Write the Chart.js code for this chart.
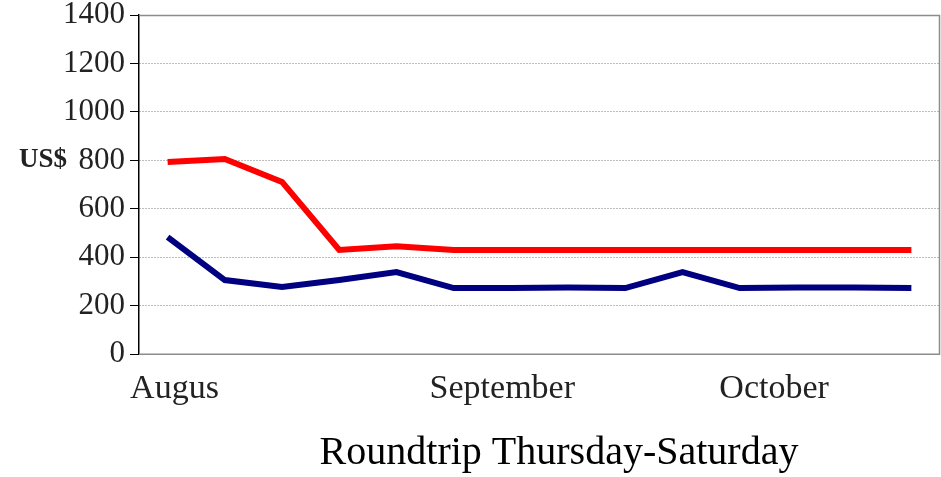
<!DOCTYPE html>
<html>
<head>
<meta charset="utf-8">
<script src="https://cdn.jsdelivr.net/npm/chart.js@4"></script>
<style>
html,body{margin:0;padding:0;background:#fff;}
#wrap{width:941px;height:477px;}
</style>
</head>
<body>
<div id="wrap"><canvas id="c" width="941" height="477"></canvas></div>
<script>
// Data
const categories = ['1','2','3','4','5','6','7','8','9','10','11','12','13','14'];
const seriesRed  = [793, 806, 711, 430, 446, 430, 430, 430, 430, 430, 430, 430, 430, 430];
const seriesBlue = [483, 306, 277, 306, 339, 273, 273, 275, 273, 339, 273, 275, 275, 273];
const yTicks = [0, 200, 400, 600, 800, 1000, 1200, 1400];
const monthLabels = ['Augus', 'September', 'October'];
const monthTickAt = [0.12, 5.85, 10.6];
const xTitle = 'Roundtrip Thursday-Saturday';
const yTitle = 'US$';

const serif = "'Liberation Serif', 'Times New Roman', serif";

const framePlugin = {
  id: 'frame',
  beforeDatasetsDraw(chart) {
    const {ctx, chartArea: a} = chart;
    ctx.save();
    ctx.strokeStyle = '#8c8c8c';
    ctx.lineWidth = 1.5;
    ctx.beginPath();
    ctx.moveTo(a.left, a.top + 0.5);
    ctx.lineTo(a.right - 0.5, a.top + 0.5);
    ctx.lineTo(a.right - 0.5, a.bottom);
    ctx.lineTo(a.left, a.bottom);
    ctx.stroke();
    ctx.restore();
  },
  afterDraw(chart) {
    const {ctx} = chart;
    const y = chart.scales.y.getPixelForValue(800);
    ctx.save();
    ctx.fillStyle = '#222';
    ctx.font = "bold 27px " + serif;
    ctx.textAlign = 'left';
    ctx.textBaseline = 'middle';
    ctx.fillText(yTitle, 19, y);
    ctx.fillStyle = '#000';
    ctx.font = "40px " + serif;
    ctx.textAlign = 'center';
    ctx.textBaseline = 'alphabetic';
    ctx.fillText(xTitle, 559, 464);
    ctx.restore();
  }
};

new Chart(document.getElementById('c'), {
  type: 'line',
  data: {
    labels: categories,
    datasets: [
      {data: seriesRed, borderColor: '#ff0000', borderWidth: 6, pointRadius: 0, tension: 0, borderCapStyle: 'butt', xAxisID: 'x', yAxisID: 'y'},
      {data: seriesBlue, borderColor: '#000080', borderWidth: 6, pointRadius: 0, tension: 0, borderCapStyle: 'butt', xAxisID: 'x', yAxisID: 'y'}
    ]
  },
  options: {
    responsive: false,
    animation: false,
    events: [],
    layout: {padding: {left: 58, right: 1, top: 15, bottom: 54}},
    plugins: {legend: {display: false}, tooltip: {enabled: false}},
    scales: {
      x: {
        type: 'category',
        offset: true,
        display: false
      },
      x2: {
        type: 'linear',
        position: 'bottom',
        min: -0.5,
        max: 13.5,
        grid: {display: false, drawTicks: false},
        border: {display: false},
        afterBuildTicks(axis) { axis.ticks = monthTickAt.map(v => ({value: v})); },
        afterFit(axis) { axis.paddingLeft = 0; axis.paddingRight = 0; },
        ticks: {
          autoSkip: false,
          maxRotation: 0,
          padding: 14,
          color: '#222',
          font: {family: serif, size: 34},
          callback: (v, i) => monthLabels[i]
        }
      },
      y: {
        min: 0,
        max: 1400,
        afterBuildTicks(axis) { axis.ticks = yTicks.map(v => ({value: v})); },
        afterFit(axis) { axis.paddingTop = 0; axis.paddingBottom = 0; },
        grid: {
          color: '#7a7a7a',
          lineWidth: 1,
          tickColor: '#000',
          tickLength: 9,
          tickBorderDash: [],
          borderDash: [1, 2]
        },
        border: {display: true, color: '#000', width: 1.5, dash: [1, 2]},
        ticks: {
          padding: 5,
          color: '#222',
          font: {family: serif, size: 31},
          callback: (v) => String(v)
        }
      }
    }
  },
  plugins: [framePlugin]
});
</script>
</body>
</html>
